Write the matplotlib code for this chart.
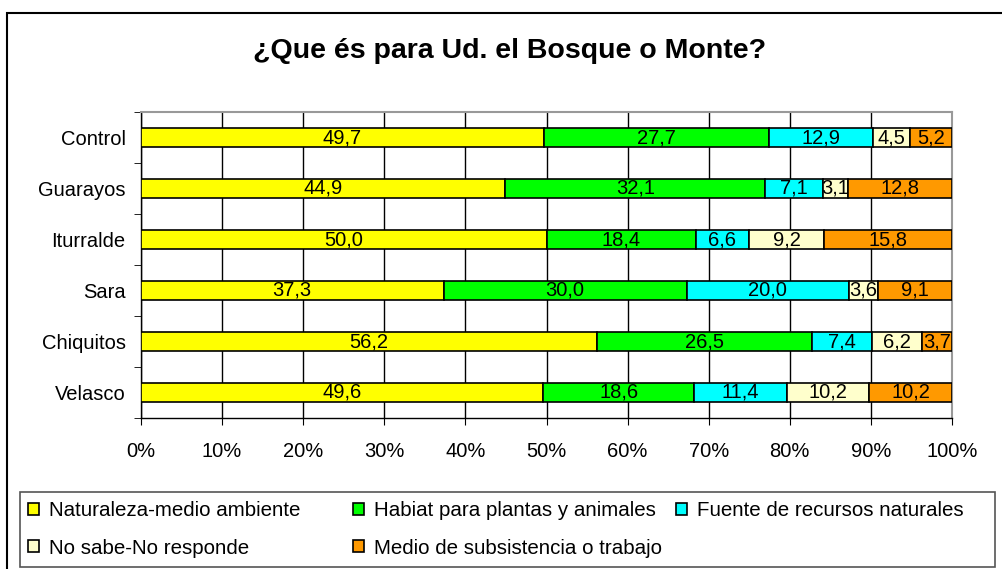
import matplotlib
matplotlib.use("Agg")
import matplotlib.pyplot as plt
from matplotlib.patches import Rectangle, Patch
import numpy as np

# datos (porcentajes por zona)
zonas = ['Control', 'Guarayos', 'Iturralde', 'Sara', 'Chiquitos', 'Velasco']
categorias = ['Naturaleza-medio ambiente', 'Habiat para plantas y animales',
              'Fuente de recursos naturales', 'No sabe-No responde',
              'Medio de subsistencia o trabajo']
naturaleza = [49.7, 44.9, 50.0, 37.3, 56.2, 49.6]
habitat = [27.7, 32.1, 18.4, 30.0, 26.5, 18.6]
recursos = [12.9, 7.1, 6.6, 20.0, 7.4, 11.4]
no_sabe = [4.5, 3.1, 9.2, 3.6, 6.2, 10.2]
subsistencia = [5.2, 12.8, 15.8, 9.1, 3.7, 10.2]
colores = ['#FFFF00', '#00FF00', '#00FFFF', '#FFFFCC', '#FF9900']

series = [naturaleza, habitat, recursos, no_sabe, subsistencia]

plt.rcParams['font.family'] = ['Liberation Sans', 'DejaVu Sans']
FS = 14.5
W, H = 1002, 569

fig = plt.figure(figsize=(W/100, H/100), dpi=100)
ax = fig.add_axes([141/W, 1-418/H, (952-141)/W, (418-112)/H])

# marco exterior
fig.patches.append(Rectangle((7/W, -0.1), 1.1, 1-13/H+0.1,
                             transform=fig.transFigure, fill=False,
                             edgecolor='black', linewidth=1.5))

y = np.arange(len(zonas))
izq = np.zeros(len(zonas))
handles = []
for vals, col, nom in zip(series, colores, categorias):
    tot = np.array(vals)
    barras = ax.barh(y, tot, left=izq, height=0.39, color=col,
                     edgecolor='black', linewidth=1.2, label=nom, zorder=3)
    ax.bar_label(barras, labels=[f"{v:.1f}".replace('.', ',') for v in vals],
                 label_type='center', fontsize=FS, zorder=4)
    handles.append(Patch(facecolor=col, edgecolor='black', linewidth=1.2, label=nom))
    izq = izq + tot

ax.set_xlim(0, 100)
ax.set_ylim(5.5, -0.5)
ax.set_xticks(np.arange(0, 101, 10))
ax.set_xticklabels([f"{t}%" for t in range(0, 101, 10)], fontsize=FS)
ax.set_yticks(y)
ax.set_yticklabels(zonas, fontsize=FS)
ax.set_yticks(np.arange(-0.5, 6, 1), minor=True)
ax.tick_params(axis='y', which='major', length=0, pad=11)
ax.tick_params(axis='y', which='minor', length=5, direction='out')
ax.tick_params(axis='x', length=5, direction='out', pad=12)
ax.grid(axis='x', color='black', linewidth=1, zorder=0)
ax.set_axisbelow(True)
for s in ['top', 'right']:
    ax.spines[s].set_color('#999999')
    ax.spines[s].set_linewidth(1.5)
for s in ['left', 'bottom']:
    ax.spines[s].set_linewidth(1)

fig.text(510/W, 1-51/H, '¿Que és para Ud. el Bosque o Monte?',
         ha='center', va='center', fontsize=20.5, fontweight='bold')

# leyenda: marco y tres columnas (orden por filas como en el original)
fig.patches.append(Rectangle((20/W, 1-567/H), (995-20)/W, (567-492)/H,
                             transform=fig.transFigure, fill=False,
                             edgecolor='#555555', linewidth=1.2))
columnas = [[0, 3], [1, 4], [2]]
col_x = [28, 353, 676]
for idx, cx in zip(columnas, col_x):
    fig.legend(handles=[handles[i] for i in idx], loc='upper left',
               bbox_to_anchor=(cx/W, 1-501/H), fontsize=FS + 0.3, frameon=False,
               handlelength=0.55, handleheight=0.55, handletextpad=0.45,
               labelspacing=0.9, borderpad=0, borderaxespad=0)

fig.savefig('out.png', dpi=100)
